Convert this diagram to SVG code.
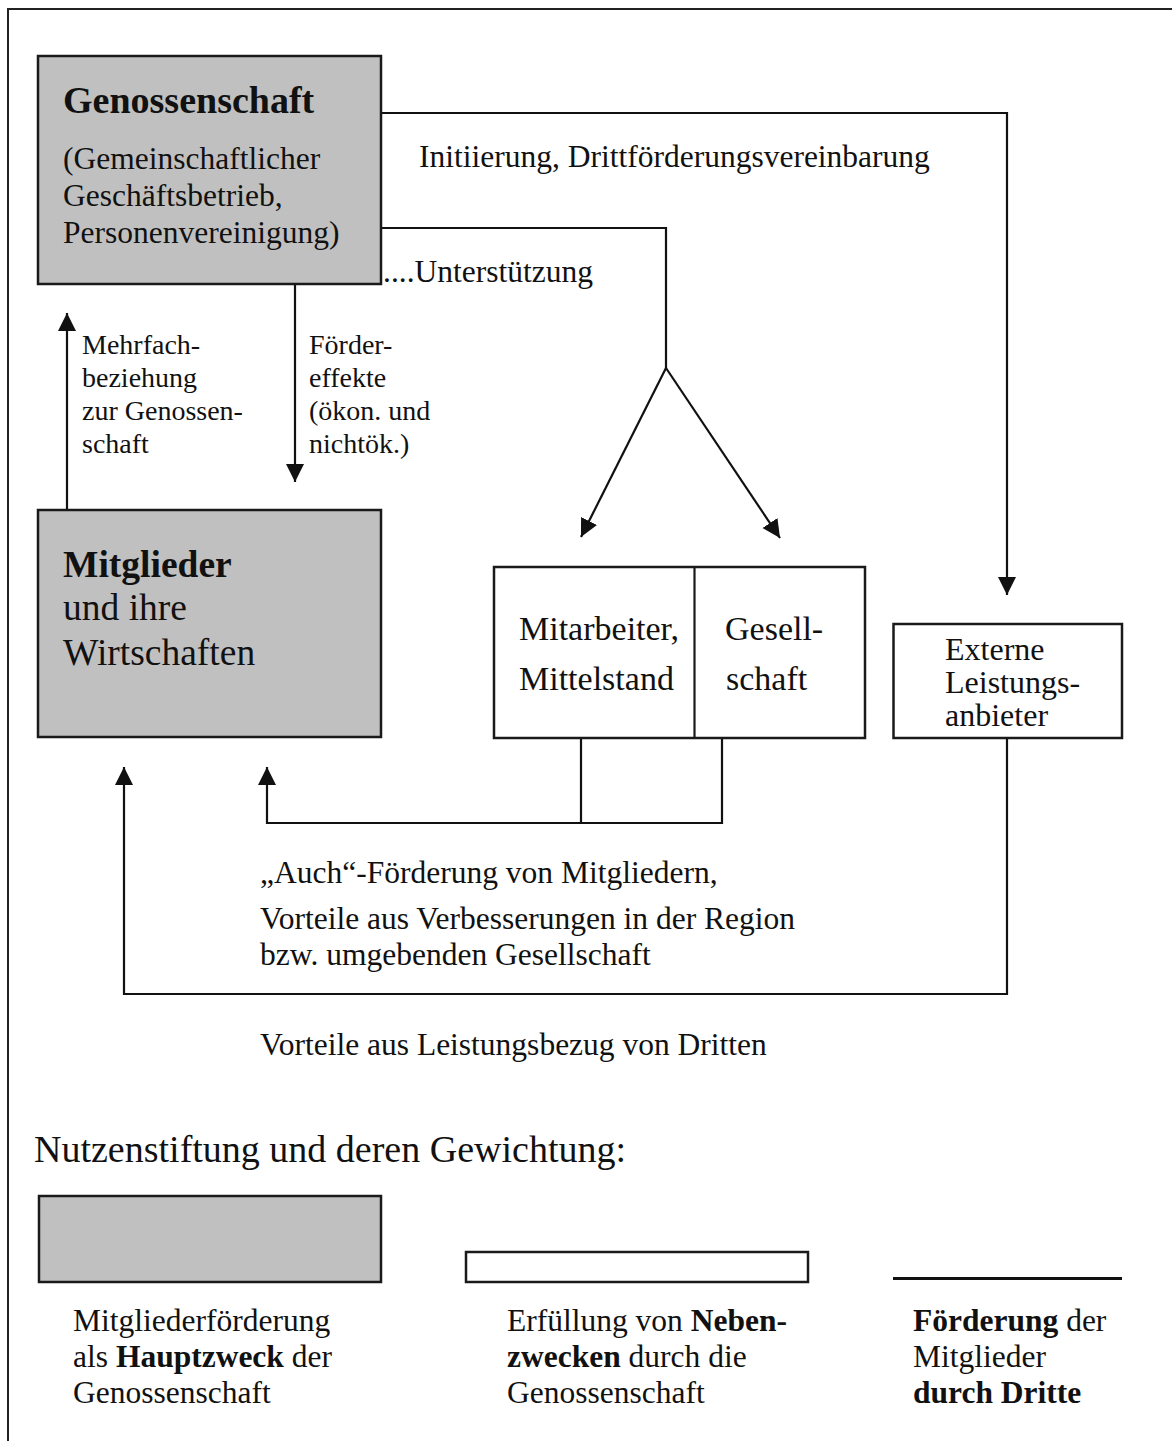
<svg xmlns="http://www.w3.org/2000/svg" width="1172" height="1441" viewBox="0 0 1172 1441">
<style>
text{font-family:"Liberation Serif","Times New Roman",serif;fill:#111}
.t31{font-size:31.5px}
.t28{font-size:28px}
.t34{font-size:34px}
.t37{font-size:37.5px}
.b{font-weight:bold}
.box{stroke:#1a1a1a;stroke-width:2.5}
.gray{fill:#c0c0c0}
.white{fill:#fff}
.con{fill:none;stroke:#111;stroke-width:2.2}
</style>
<defs>
<marker id="ah" markerUnits="userSpaceOnUse" markerWidth="20" markerHeight="20" refX="18" refY="9" orient="auto">
<path d="M0,0 L18,9 L0,18 z" fill="#111"/>
</marker>
</defs>
<rect x="0" y="0" width="1172" height="1441" fill="#fff"/>
<rect x="8" y="9" width="1180" height="1450" fill="none" stroke="#222" stroke-width="2"/>

<g id="connectors">
<path class="con" d="M381,113 H1007 V595" marker-end="url(#ah)"/>
<path class="con" d="M381,228 H666 V368"/>
<path class="con" d="M666,368 L581,537" marker-end="url(#ah)"/>
<path class="con" d="M666,368 L780,538" marker-end="url(#ah)"/>
<path class="con" d="M295,284 V482" marker-end="url(#ah)"/>
<path class="con" d="M67,510 V313" marker-end="url(#ah)"/>
<path class="con" d="M581,738 V823"/>
<path class="con" d="M722,738 V823 H267 V767" marker-end="url(#ah)"/>
<path class="con" d="M1007,738 V994 H124 V767" marker-end="url(#ah)"/>
<text class="t31" x="419" y="167">Initiierung, Drittförderungsvereinbarung</text>
<text class="t31" x="383" y="282">....Unterstützung</text>
<text class="t28" x="82"><tspan x="82" y="354">Mehrfach-</tspan><tspan x="82" y="387">beziehung</tspan><tspan x="82" y="420">zur Genossen-</tspan><tspan x="82" y="453">schaft</tspan></text>
<text class="t28" x="309"><tspan x="309" y="354">Förder-</tspan><tspan x="309" y="387">effekte</tspan><tspan x="309" y="420">(ökon. und</tspan><tspan x="309" y="453">nichtök.)</tspan></text>
<text class="t31"><tspan x="260" y="883">„Auch“-Förderung von Mitgliedern,</tspan><tspan x="260" y="929">Vorteile aus Verbesserungen in der Region</tspan><tspan x="260" y="965">bzw. umgebenden Gesellschaft</tspan></text>
<text class="t31" x="260" y="1055">Vorteile aus Leistungsbezug von Dritten</text>
</g>

<g id="genossenschaft">
<rect class="box gray" x="38" y="56" width="343" height="228"/>
<text class="b" style="font-size:38px" x="63" y="113">Genossenschaft</text>
<text class="t31"><tspan x="63" y="169">(Gemeinschaftlicher</tspan><tspan x="63" y="206">Geschäftsbetrieb,</tspan><tspan x="63" y="243">Personenvereinigung)</tspan></text>
</g>

<g id="mitglieder">
<rect class="box gray" x="38" y="510" width="343" height="227"/>
<text class="t37 b" x="63" y="577">Mitglieder</text>
<text class="t37"><tspan x="63" y="620">und ihre</tspan><tspan x="63" y="665">Wirtschaften</tspan></text>
</g>

<g id="mitarbeiter-gesellschaft">
<rect class="box white" x="494" y="567" width="371" height="171"/>
<line x1="694.5" y1="567" x2="694.5" y2="738" stroke="#1a1a1a" stroke-width="2.2"/>
<text class="t34"><tspan x="519" y="640">Mitarbeiter,</tspan><tspan x="519" y="690">Mittelstand</tspan></text>
<text class="t34"><tspan x="725" y="640">Gesell-</tspan><tspan x="726" y="690">schaft</tspan></text>
</g>

<g id="externe">
<rect class="box white" x="893.5" y="624" width="228.5" height="114"/>
<text style="font-size:32px"><tspan x="945" y="660">Externe</tspan><tspan x="945" y="693">Leistungs-</tspan><tspan x="945" y="726">anbieter</tspan></text>
</g>

<g id="legend">
<text style="font-size:38px" x="34" y="1162">Nutzenstiftung und deren Gewichtung:</text>
<rect class="box gray" x="39" y="1196" width="342" height="86"/>
<rect class="box white" x="466" y="1252" width="342" height="30"/>
<line x1="893" y1="1278.5" x2="1122" y2="1278.5" stroke="#111" stroke-width="3"/>
<text class="t31"><tspan x="73" y="1331">Mitgliederförderung</tspan><tspan x="73" y="1367">als <tspan class="b">Hauptzweck</tspan> der</tspan><tspan x="73" y="1403">Genossenschaft</tspan></text>
<text class="t31"><tspan x="507" y="1331">Erfüllung von <tspan class="b">Neben-</tspan></tspan><tspan x="507" y="1367"><tspan class="b">zwecken</tspan> durch die</tspan><tspan x="507" y="1403">Genossenschaft</tspan></text>
<text class="t31"><tspan x="913" y="1331"><tspan class="b">Förderung</tspan> der</tspan><tspan x="913" y="1367">Mitglieder</tspan><tspan x="913" y="1403" class="b">durch Dritte</tspan></text>
</g>
</svg>
